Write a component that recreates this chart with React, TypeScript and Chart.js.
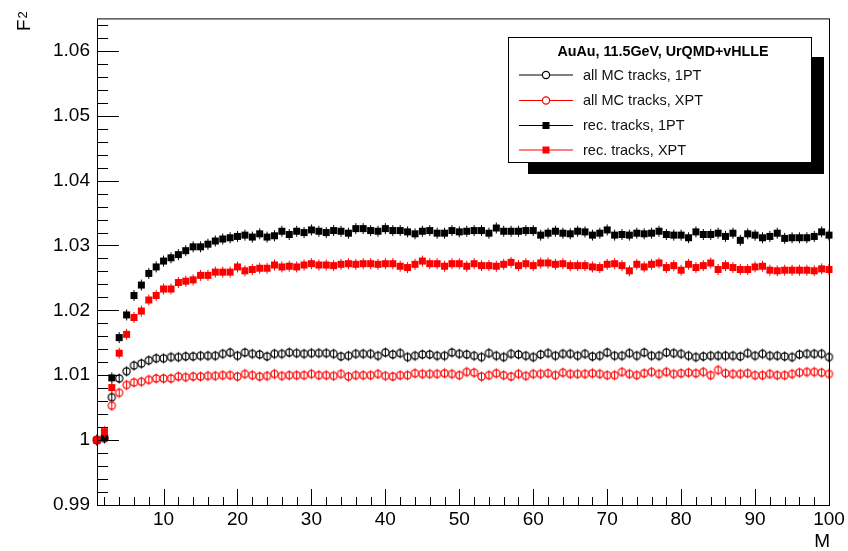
import React, { useEffect, useRef } from 'react';
import { Chart, registerables } from 'chart.js';

Chart.register(...registerables);

// ---- data ----
const M: number[] = Array.from({ length: 100 }, (_, i) => i + 1);

const mc1PT: number[] = [
  1.0000, 1.0003, 1.0066, 1.0095, 1.0106, 1.0115, 1.0118, 1.0123, 1.0126, 1.0126,
  1.0128, 1.0128, 1.0129, 1.0129, 1.0130, 1.0130, 1.0130, 1.0133, 1.0135, 1.0130,
  1.0135, 1.0133, 1.0132, 1.0129, 1.0133, 1.0133, 1.0135, 1.0134, 1.0133, 1.0134,
  1.0134, 1.0134, 1.0133, 1.0129, 1.0130, 1.0133, 1.0133, 1.0133, 1.0130, 1.0135,
  1.0132, 1.0134, 1.0128, 1.0130, 1.0132, 1.0132, 1.0130, 1.0130, 1.0135, 1.0133,
  1.0132, 1.0130, 1.0128, 1.0134, 1.0130, 1.0128, 1.0133, 1.0132, 1.0130, 1.0128,
  1.0132, 1.0134, 1.0130, 1.0133, 1.0133, 1.0130, 1.0133, 1.0129, 1.0130, 1.0135,
  1.0130, 1.0130, 1.0134, 1.0130, 1.0135, 1.0130, 1.0130, 1.0135, 1.0134, 1.0133,
  1.0130, 1.0128, 1.0129, 1.0130, 1.0130, 1.0130, 1.0130, 1.0129, 1.0134, 1.0130,
  1.0133, 1.0130, 1.0130, 1.0129, 1.0128, 1.0132, 1.0133, 1.0133, 1.0133, 1.0128,
];

const mcXPT: number[] = [
  1.0000, 1.0003, 1.0053, 1.0073, 1.0085, 1.0089, 1.0090, 1.0093, 1.0095, 1.0095,
  1.0095, 1.0098, 1.0097, 1.0098, 1.0098, 1.0099, 1.0099, 1.0100, 1.0100, 1.0098,
  1.0102, 1.0100, 1.0098, 1.0099, 1.0102, 1.0099, 1.0100, 1.0100, 1.0100, 1.0102,
  1.0100, 1.0100, 1.0099, 1.0102, 1.0098, 1.0100, 1.0100, 1.0100, 1.0102, 1.0099,
  1.0098, 1.0100, 1.0100, 1.0103, 1.0102, 1.0102, 1.0102, 1.0103, 1.0102, 1.0100,
  1.0105, 1.0104, 1.0098, 1.0100, 1.0103, 1.0100, 1.0098, 1.0102, 1.0099, 1.0102,
  1.0102, 1.0103, 1.0100, 1.0104, 1.0102, 1.0102, 1.0102, 1.0103, 1.0102, 1.0100,
  1.0100, 1.0105, 1.0102, 1.0100, 1.0103, 1.0105, 1.0102, 1.0105, 1.0102, 1.0103,
  1.0104, 1.0103, 1.0105, 1.0100, 1.0108, 1.0103, 1.0102, 1.0102, 1.0103, 1.0100,
  1.0100, 1.0102, 1.0100, 1.0100, 1.0102, 1.0104, 1.0105, 1.0105, 1.0104, 1.0102,
];

const rec1PT: number[] = [
  1.0000, 1.0004, 1.0096, 1.0158, 1.0193, 1.0223, 1.0239, 1.0257, 1.0267, 1.0276,
  1.0281, 1.0286, 1.0292, 1.0298, 1.0298, 1.0302, 1.0307, 1.0310, 1.0312, 1.0314,
  1.0316, 1.0313, 1.0318, 1.0313, 1.0315, 1.0322, 1.0317, 1.0322, 1.0320, 1.0324,
  1.0322, 1.0320, 1.0323, 1.0322, 1.0319, 1.0326, 1.0326, 1.0323, 1.0322, 1.0326,
  1.0323, 1.0323, 1.0321, 1.0318, 1.0322, 1.0323, 1.0319, 1.0319, 1.0323, 1.0321,
  1.0322, 1.0323, 1.0323, 1.0319, 1.0327, 1.0322, 1.0322, 1.0322, 1.0323, 1.0323,
  1.0316, 1.0319, 1.0322, 1.0319, 1.0318, 1.0322, 1.0321, 1.0316, 1.0319, 1.0324,
  1.0316, 1.0317, 1.0316, 1.0319, 1.0318, 1.0319, 1.0322, 1.0317, 1.0316, 1.0316,
  1.0312, 1.0321, 1.0317, 1.0317, 1.0319, 1.0314, 1.0319, 1.0308, 1.0318, 1.0316,
  1.0312, 1.0314, 1.0319, 1.0311, 1.0312, 1.0312, 1.0312, 1.0314, 1.0321, 1.0316,
];

const recXPT: number[] = [
  1.0000, 1.0013, 1.0081, 1.0134, 1.0163, 1.0189, 1.0199, 1.0216, 1.0223, 1.0233,
  1.0233, 1.0243, 1.0245, 1.0247, 1.0254, 1.0254, 1.0259, 1.0259, 1.0259, 1.0267,
  1.0261, 1.0263, 1.0265, 1.0265, 1.0270, 1.0267, 1.0268, 1.0267, 1.0270, 1.0272,
  1.0270, 1.0270, 1.0269, 1.0271, 1.0272, 1.0271, 1.0272, 1.0272, 1.0271, 1.0272,
  1.0272, 1.0268, 1.0266, 1.0271, 1.0276, 1.0272, 1.0272, 1.0268, 1.0272, 1.0272,
  1.0268, 1.0272, 1.0269, 1.0269, 1.0268, 1.0271, 1.0274, 1.0269, 1.0272, 1.0269,
  1.0273, 1.0273, 1.0271, 1.0272, 1.0269, 1.0269, 1.0269, 1.0267, 1.0266, 1.0271,
  1.0272, 1.0269, 1.0261, 1.0271, 1.0267, 1.0271, 1.0273, 1.0266, 1.0269, 1.0262,
  1.0271, 1.0266, 1.0269, 1.0273, 1.0263, 1.0269, 1.0266, 1.0263, 1.0263, 1.0267,
  1.0268, 1.0262, 1.0261, 1.0262, 1.0262, 1.0262, 1.0262, 1.0261, 1.0264, 1.0263,
];

const xTickValues: number[] = [10, 20, 30, 40, 50, 60, 70, 80, 90, 100];
const xTickLabels: string[] = ['10', '20', '30', '40', '50', '60', '70', '80', '90', '100'];
const yTickValues: number[] = [0.99, 1.0, 1.01, 1.02, 1.03, 1.04, 1.05, 1.06];
const yTickLabels: string[] = ['0.99', '1', '1.01', '1.02', '1.03', '1.04', '1.05', '1.06'];

const legendTitle = 'AuAu, 11.5GeV, UrQMD+vHLLE';
const seriesNames: string[] = [
  'all MC tracks, 1PT',
  'all MC tracks, XPT',
  'rec. tracks, 1PT',
  'rec. tracks, XPT',
];
const xTitle = 'M';
const yTitle = 'F';
const yTitleSub = '2';

const FONT = "'Liberation Sans', Arial, Helvetica, sans-serif";

function makeCircleMarker(color: string): HTMLCanvasElement {
  const c = document.createElement('canvas');
  c.width = 11; c.height = 13;
  const g = c.getContext('2d')!;
  g.strokeStyle = color;
  g.lineWidth = 1;
  g.beginPath();
  g.moveTo(5.5, 1.5); g.lineTo(5.5, 11.5);
  g.stroke();
  g.lineWidth = 1.2;
  g.beginPath();
  g.arc(5.5, 6.5, 3.6, 0, Math.PI * 2);
  g.stroke();
  return c;
}

function makeSquareMarker(color: string): HTMLCanvasElement {
  const c = document.createElement('canvas');
  c.width = 11; c.height = 13;
  const g = c.getContext('2d')!;
  g.fillStyle = color;
  g.strokeStyle = color;
  g.lineWidth = 1;
  g.beginPath();
  g.moveTo(5.5, 1); g.lineTo(5.5, 12);
  g.stroke();
  g.fillRect(2, 3, 7, 7);
  return c;
}

const decorPlugin = {
  id: 'rootDecor',
  afterDraw(chart: any) {
    const { ctx, chartArea: a, scales } = chart;
    const xs = scales.x;
    const ys = scales.y;
    ctx.save();
    // frame
    ctx.strokeStyle = '#000';
    ctx.lineWidth = 1;
    ctx.strokeRect(a.left + 0.5, a.top + 0.5, a.right - a.left, a.bottom - a.top);
    // x ticks (inward)
    ctx.beginPath();
    for (let v = 2; v <= 100; v += 2) {
      const px = Math.round(xs.getPixelForValue(v)) + 0.5;
      const len = v % 10 === 0 ? 16 : 8;
      ctx.moveTo(px, a.bottom);
      ctx.lineTo(px, a.bottom - len);
    }
    // y ticks
    for (let k = 0; k <= 37; k++) {
      const v = 0.99 + k * 0.002;
      const py = Math.round(ys.getPixelForValue(v)) + 0.5;
      const len = k % 5 === 0 ? 22 : 11;
      ctx.moveTo(a.left, py);
      ctx.lineTo(a.left + len, py);
    }
    ctx.stroke();

    // axis titles
    ctx.fillStyle = '#000';
    ctx.font = `19px ${FONT}`;
    ctx.textAlign = 'right';
    ctx.textBaseline = 'middle';
    ctx.fillText(xTitle, a.right + 1, 542);

    ctx.save();
    ctx.translate(30, 31);
    ctx.rotate(-Math.PI / 2);
    ctx.textAlign = 'left';
    ctx.textBaseline = 'alphabetic';
    ctx.font = `19px ${FONT}`;
    ctx.fillText(yTitle, 0, 0);
    const fw = ctx.measureText(yTitle).width;
    ctx.font = `13px ${FONT}`;
    ctx.fillText(yTitleSub, fw + 1, -3);
    ctx.restore();

    // legend
    const bx = 508, by = 37, bw = 303, bh = 125;
    ctx.fillStyle = '#000';
    ctx.fillRect(528, 57, 296, 117);
    ctx.fillStyle = '#fff';
    ctx.fillRect(bx, by, bw, bh);
    ctx.strokeStyle = '#000';
    ctx.lineWidth = 1;
    ctx.strokeRect(bx + 0.5, by + 0.5, bw, bh);

    ctx.fillStyle = '#000';
    ctx.font = `bold 14.3px ${FONT}`;
    ctx.textAlign = 'center';
    ctx.textBaseline = 'middle';
    ctx.fillText(legendTitle, 663, 52);

    const ds = chart.data.datasets;
    const rows = [75, 100.5, 125.5, 150];
    ctx.font = `14.5px ${FONT}`;
    ctx.textAlign = 'left';
    for (let i = 0; i < ds.length; i++) {
      const d = ds[i];
      const y = rows[i];
      const color = d.legendColor;
      ctx.strokeStyle = color;
      ctx.lineWidth = 1.2;
      ctx.beginPath();
      ctx.moveTo(519, y);
      ctx.lineTo(573, y);
      ctx.stroke();
      if (d.legendFilled) {
        ctx.fillStyle = color;
        ctx.fillRect(542.5, y - 3.5, 7, 7);
      } else {
        ctx.fillStyle = '#fff';
        ctx.beginPath();
        ctx.arc(546, y, 3.6, 0, Math.PI * 2);
        ctx.fill();
        ctx.stroke();
      }
      ctx.fillStyle = '#111';
      ctx.fillText(d.label, 583, y + 0.5);
    }
    ctx.restore();
  },
};

export default function App() {
  const ref = useRef<HTMLCanvasElement | null>(null);

  useEffect(() => {
    const canvas = ref.current;
    if (!canvas) return;
    const pts = (arr: number[]) => M.map((m, i) => ({ x: m, y: arr[i] }));
    const chart = new Chart(canvas, {
      type: 'scatter',
      data: {
        datasets: [
          {
            label: seriesNames[0], data: pts(mc1PT), pointStyle: makeCircleMarker('#000') as any,
            showLine: false, clip: false as any, order: 3, legendColor: '#000', legendFilled: false,
          } as any,
          {
            label: seriesNames[1], data: pts(mcXPT), pointStyle: makeCircleMarker('#ff0000') as any,
            showLine: false, clip: false as any, order: 2, legendColor: '#ff0000', legendFilled: false,
          } as any,
          {
            label: seriesNames[2], data: pts(rec1PT), pointStyle: makeSquareMarker('#000') as any,
            showLine: false, clip: false as any, order: 1, legendColor: '#000', legendFilled: true,
          } as any,
          {
            label: seriesNames[3], data: pts(recXPT), pointStyle: makeSquareMarker('#ff0000') as any,
            showLine: false, clip: false as any, order: 0, legendColor: '#ff0000', legendFilled: true,
          } as any,
        ],
      },
      options: {
        animation: false,
        responsive: false,
        devicePixelRatio: 1,
        layout: { padding: { top: 6, right: 19, left: 0, bottom: 0 } },
        plugins: { legend: { display: false }, tooltip: { enabled: false } },
        scales: {
          x: {
            type: 'linear', min: 1, max: 100,
            grid: { display: false, drawTicks: false },
            border: { display: false },
            afterBuildTicks: (s: any) => { s.ticks = xTickValues.map((v) => ({ value: v })); },
            afterFit: (s: any) => { s.height = 46; },
            ticks: {
              autoSkip: false, maxRotation: 0, minRotation: 0, padding: 3, color: '#000',
              font: { family: FONT, size: 19 },
              callback: (_v: any, i: number) => xTickLabels[i],
            },
          },
          y: {
            type: 'linear', min: 0.99, max: 1.065,
            grid: { display: false, drawTicks: false },
            border: { display: false },
            afterBuildTicks: (s: any) => { s.ticks = yTickValues.map((v) => ({ value: v })); },
            afterFit: (s: any) => { s.width = 97; },
            ticks: {
              autoSkip: false, padding: 7, color: '#000',
              font: { family: FONT, size: 19 },
              callback: (_v: any, i: number) => yTickLabels[i],
            },
          },
        },
      } as any,
      plugins: [decorPlugin],
    });
    return () => chart.destroy();
  }, []);

  return (
    <div style={{ position: 'absolute', left: 0, top: 0, width: 848, height: 551, background: '#fff' }}>
      <canvas ref={ref} width={848} height={551} style={{ display: 'block' }} />
    </div>
  );
}
